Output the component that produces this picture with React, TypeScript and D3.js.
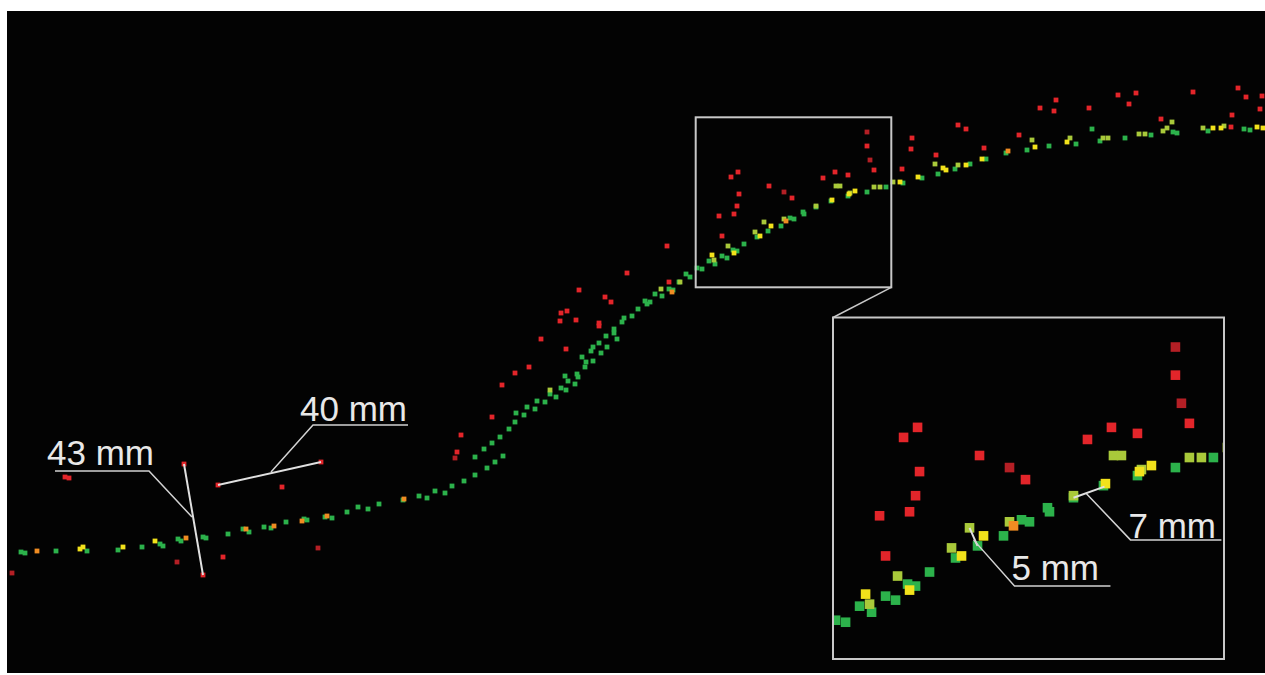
import React from "react";
import * as d3 from "d3";

// Point classes: [distance (m), elevation (m)]
const greenPts: [number, number][] = [
  [2.1,12.8],[2.5,12.7],[5.6,12.9],[8.7,12.9],[11.8,13.0],[14.2,13.3],[16.0,13.6],[16.3,13.4],[17.8,14.1],[18.1,13.9],
  [20.3,14.3],[20.6,14.2],[22.8,14.6],[24.3,15.1],[24.9,14.8],[26.4,15.3],[27.1,15.2],[28.6,15.8],[30.4,16.1],[30.7,16.0],
  [32.5,16.3],[33.2,16.2],[34.7,16.8],[35.8,17.3],[36.8,17.1],[37.9,17.6],[40.3,18.0],[41.9,18.4],[42.7,18.2],[43.5,18.9],
  [44.5,18.7],[45.2,19.4],[46.4,19.9],[47.5,20.5],[48.7,21.2],[47.5,22.3],[49.5,21.8],[50.3,22.4],[48.4,23.1],[49.2,23.7],
  [50.0,24.3],[50.9,25.1],[51.5,25.8],[52.4,26.5],[51.6,26.7],[53.5,27.1],[52.7,27.3],[53.7,27.9],[54.5,27.8],[55.6,28.3],
  [55.0,28.6],[56.1,29.2],[56.6,29.0],[57.5,29.6],[56.5,30.4],[56.8,29.9],[57.7,30.6],[57.8,30.3],[58.5,31.3],[58.6,31.8],
  [58.2,32.3],[59.3,31.9],[60.1,32.7],[59.1,32.9],[59.3,33.3],[59.9,33.7],[60.7,33.3],[60.6,34.4],[61.4,35.1],[61.4,34.7],
  [61.7,34.1],[62.4,36.2],[62.2,35.8],[63.2,36.4],[63.8,37.1],[64.5,37.9],[65.0,37.8],[64.7,37.6],[65.5,38.6],[66.2,38.4],
  [66.9,39.1],[67.3,39.0],[67.9,39.8],[68.6,40.6],[69.0,40.3],
  [69.7,41.2],[70.2,41.1],[70.9,41.9],[71.5,41.6],[72.2,42.4],[72.7,42.2],[73.3,43.0],[73.7,42.9],[74.4,43.6],[75.7,44.3],
  [76.8,44.9],[78.1,45.4],[79.0,46.2],[79.4,46.1],[80.3,46.8],[80.4,46.6],[81.6,47.3],[83.1,47.9],[84.8,48.4],[86.7,48.8],
  [88.6,49.3],
  [90.3,49.7],[92.2,50.2],[93.8,50.6],[95.5,51.1],[97.0,51.6],[98.6,52.1],[100.6,52.7],[102.7,53.0],[104.9,53.4],[107.6,53.6],
  [109.2,55.1],[110.0,53.9],[112.5,54.2],[115.1,54.5],[117.3,54.8],[117.7,54.7],[120.8,54.9],[124.4,55.1],[125.0,55.0],
];

const limePts: [number, number][] = [
  [55.0,29.0],[66.1,39.1],[68.0,39.8],[71.4,42.0],[72.8,43.4],[75.5,44.8],[76.4,45.8],[78.4,46.1],[81.6,47.4],[83.6,49.4],
  [84.0,49.4],[85.0,48.7],[87.4,49.3],[88.0,49.3],[89.3,49.8],[93.5,51.6],[95.8,51.5],[103.2,54.0],[107.0,54.2],[110.3,54.2],
  [110.8,54.2],[113.9,54.6],[114.5,54.6],[116.3,54.9],[116.7,55.2],[117.2,55.8],[120.3,55.2],[122.4,55.4],
];

const yellowPts: [number, number][] = [
  [8.0,13.1],[8.3,13.3],[12.3,13.3],[15.5,13.9],[71.2,42.5],[73.4,42.7],[76.0,44.4],[77.1,45.4],[83.2,48.0],[84.9,48.6],
  [85.5,48.9],[90.0,49.8],[91.8,50.3],[94.3,51.2],[94.6,51.0],[96.6,51.5],[98.2,52.1],[103.5,53.3],[106.7,53.8],[121.3,55.2],
  [122.1,55.2],[125.7,55.3],[126.3,55.2],
];

const orangePts: [number, number][] = [
  [3.7,12.9],[18.6,14.2],[24.6,15.1],[27.4,15.4],[30.2,15.9],[32.7,16.4],[40.4,18.1],[67.2,38.8],[78.6,45.9],[100.8,52.9],
];

const redPts: [number, number][] = [
  [6.5,20.3],[6.9,20.2],[18.4,21.6],[20.3,10.5],[21.8,19.5],[32.1,21.8],[28.2,19.3],[22.3,12.3],
  [45.7,22.8],[46.1,24.5],[49.2,26.3],[50.2,29.5],[51.5,30.7],[52.9,31.3],[54.1,34.1],[56.6,33.1],[56.0,35.9],[56.1,36.7],
  [56.7,36.9],[57.6,36.0],[57.9,39.0],[59.9,35.7],[59.9,35.4],[60.5,38.3],[61.1,37.8],[62.7,40.7],[66.7,43.4],[66.9,39.8],
  [86.7,53.4],[87.4,51.0],[73.8,50.8],[73.1,50.3],[73.9,48.6],[73.7,47.4],[73.4,46.6],[71.9,46.4],[72.2,44.4],[76.9,49.4],
  [79.2,48.2],[82.3,50.2],[83.5,50.8],[84.8,50.5],
  [90.2,51.1],[91.1,53.1],[91.2,54.2],[93.6,52.5],[95.8,55.5],[96.6,55.1],[98.4,53.2],[101.9,54.5],[104.0,57.2],[105.4,56.9],
  [105.6,58.0],[108.9,57.2],[111.8,58.5],[112.9,57.6],[113.6,58.7],[116.1,56.1],[119.3,58.8],[123.2,56.5],[123.1,55.3],[123.8,59.2],
  [124.6,58.3],[126.0,57.1],[126.2,58.4],
];

const darkRedPts: [number, number][] = [
  [1.2,10.7],[17.7,11.8],[31.8,13.2],[45.5,22.2],[78.4,48.8],[87.0,52.0],[86.7,54.8],
];

const classes = [
  { name: "green", pts: greenPts, color: "#2cb24b" },
  { name: "lime", pts: limePts, color: "#a9c93a" },
  { name: "yellow", pts: yellowPts, color: "#f2e21b" },
  { name: "orange", pts: orangePts, color: "#f08c22" },
  { name: "darkred", pts: darkRedPts, color: "#b41f25" },
  { name: "red", pts: redPts, color: "#e3252a" },
];

// Measurements in the main view
const mainMeasures = [
  { label: "43 mm", a: [18.4, 21.6], b: [20.3, 10.5], leader: [[19.2, 16.3], [14.9, 20.9], [5.5, 20.9]], text: [4.7, 21.5] },
  { label: "40 mm", a: [21.8, 19.5], b: [32.1, 21.8], leader: [[27.1, 20.8], [31.3, 25.5], [40.8, 25.5]], text: [30.0, 25.9] },
];
// Measurements shown in the zoomed inset
const insetMeasures = [
  { label: "5 mm", a: [76.4, 45.8], b: [76.8, 44.9], leader: [[76.6, 45.2], [78.65, 42.9], [83.45, 42.9]], text: [78.5, 43.2] },
  { label: "7 mm", a: [81.6, 47.3], b: [83.15, 47.85], leader: [[82.25, 47.5], [84.45, 45.2], [89.0, 45.2]], text: [84.35, 45.3] },
];

const zoomBox = { x0: 69.57, x1: 89.13, yTop: 56.27, yBot: 39.27 };

export default function App() {
  const W = 1265, H = 675;
  const xs = d3.scaleLinear().domain([0, 126.5]).range([0, 1265]);
  const ys = d3.scaleLinear().domain([0, 68]).range([680, 0]);
  const ix = d3.scaleLinear().domain([zoomBox.x0, zoomBox.x1]).range([833, 1224]);
  const iy = d3.scaleLinear().domain([zoomBox.yTop, zoomBox.yBot]).range([317.5, 659]);
  const line = (sx: any, sy: any) => d3.line<number[]>().x((d) => sx(d[0])).y((d) => sy(d[1]));
  const lineColor = "#d2d2d2";
  const textColor = "#e8e8e8";
  const font = "'Liberation Sans', Arial, sans-serif";
  const ms = 4.8;
  const is = 9.6;

  return (
    <svg width={W} height={H} style={{ position: "absolute", left: 0, top: 0, background: "#fff" }}>
      <defs>
        <clipPath id="panel"><rect x={7} y={11} width={1258} height={662} /></clipPath>
        <clipPath id="inset"><rect x={834} y={318.5} width={389} height={339.5} /></clipPath>
      </defs>
      <rect x={7} y={11} width={1258} height={662} fill="#030303" />
      <g clipPath="url(#panel)">
        {classes.map((c) => (
          <g key={c.name}>
            {c.pts.map((p, i) => (
              <rect key={i} x={xs(p[0]) - ms / 2} y={ys(p[1]) - ms / 2} width={ms} height={ms} fill={c.color} />
            ))}
          </g>
        ))}
        {mainMeasures.map((m) => (
          <g key={m.label}>
            <path d={line(xs, ys)([m.a, m.b]) || ""} stroke="#e0e0e0" strokeWidth={2} fill="none" />
            <path d={line(xs, ys)(m.leader) || ""} stroke={lineColor} strokeWidth={1.5} fill="none" />
            <text x={xs(m.text[0])} y={ys(m.text[1])} fill={textColor} fontFamily={font} fontSize={35}>{m.label}</text>
          </g>
        ))}
        <rect x={xs(zoomBox.x0)} y={ys(zoomBox.yTop)} width={xs(zoomBox.x1) - xs(zoomBox.x0)} height={ys(zoomBox.yBot) - ys(zoomBox.yTop)}
          fill="none" stroke="#c8c8c8" strokeWidth={2} />
        <line x1={xs(zoomBox.x1)} y1={ys(zoomBox.yBot)} x2={ix(zoomBox.x0)} y2={iy(zoomBox.yTop)} stroke="#c8c8c8" strokeWidth={1.5} />
        <rect x={833} y={317.5} width={391} height={341.5} fill="#030303" stroke="#c8c8c8" strokeWidth={2} />
        <g clipPath="url(#inset)">
          {classes.map((c) => (
            <g key={c.name}>
              {c.pts.map((p, i) => (
                <rect key={i} x={ix(p[0]) - is / 2} y={iy(p[1]) - is / 2} width={is} height={is} fill={c.color} />
              ))}
            </g>
          ))}
          {insetMeasures.map((m) => (
            <g key={m.label}>
              <path d={line(ix, iy)([m.a, m.b]) || ""} stroke="#e0e0e0" strokeWidth={2} fill="none" />
              <path d={line(ix, iy)(m.leader) || ""} stroke={lineColor} strokeWidth={1.5} fill="none" />
              <text x={ix(m.text[0])} y={iy(m.text[1])} fill={textColor} fontFamily={font} fontSize={35}>{m.label}</text>
            </g>
          ))}
        </g>
      </g>
    </svg>
  );
}
